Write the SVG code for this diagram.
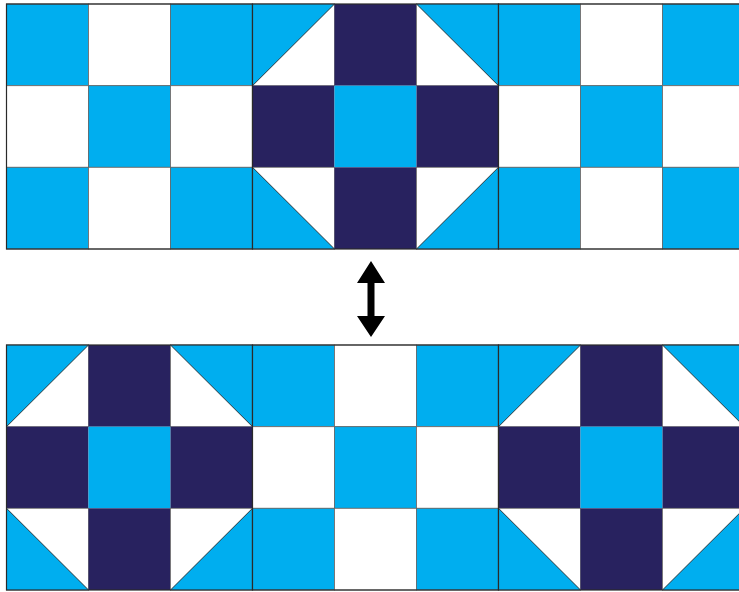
<svg xmlns="http://www.w3.org/2000/svg" xmlns:xlink="http://www.w3.org/1999/xlink" width="739" height="592" viewBox="0 0 739 592">
<style>
.b{fill:#00AEEF}
.w{fill:#FFFFFF}
.n{fill:#28225F}
.sq{stroke:#666;stroke-width:0.8}
.tri{fill:#00AEEF;stroke:none}
.diag{stroke:#2a3a40;stroke-width:1;fill:none}
.edge{fill:none;stroke:#2a2a2a;stroke-width:1.2}
</style>
<defs>
<g id="checker">
<rect class="b sq" x="0" y="0" width="82" height="81.7"/>
<rect class="w sq" x="82" y="0" width="82" height="81.7"/>
<rect class="b sq" x="164" y="0" width="82" height="81.7"/>
<rect class="w sq" x="0" y="81.7" width="82" height="81.6"/>
<rect class="b sq" x="82" y="81.7" width="82" height="81.6"/>
<rect class="w sq" x="164" y="81.7" width="82" height="81.6"/>
<rect class="b sq" x="0" y="163.3" width="82" height="81.7"/>
<rect class="w sq" x="82" y="163.3" width="82" height="81.7"/>
<rect class="b sq" x="164" y="163.3" width="82" height="81.7"/>
<rect class="edge" x="0" y="0" width="246" height="245"/>
</g>
<g id="star">
<rect class="w sq" x="0" y="0" width="82" height="81.7"/>
<polygon class="tri" points="0,0 82,0 0,81.7"/>
<line class="diag" x1="0" y1="81.7" x2="82" y2="0"/>
<rect class="n" x="82" y="0" width="82" height="81.7"/>
<rect class="w sq" x="164" y="0" width="82" height="81.7"/>
<polygon class="tri" points="164,0 246,0 246,81.7"/>
<line class="diag" x1="164" y1="0" x2="246" y2="81.7"/>
<rect class="n" x="0" y="81.7" width="82" height="81.6"/>
<rect class="b" x="82" y="81.7" width="82" height="81.6"/>
<rect class="n" x="164" y="81.7" width="82" height="81.6"/>
<rect class="w sq" x="0" y="163.3" width="82" height="81.7"/>
<polygon class="tri" points="0,163.3 0,245 82,245"/>
<line class="diag" x1="0" y1="163.3" x2="82" y2="245"/>
<rect class="n" x="82" y="163.3" width="82" height="81.7"/>
<rect class="w sq" x="164" y="163.3" width="82" height="81.7"/>
<polygon class="tri" points="246,163.3 246,245 164,245"/>
<line class="diag" x1="164" y1="245" x2="246" y2="163.3"/>
<rect class="edge" x="0" y="0" width="246" height="245"/>
</g>
</defs>
<rect x="0" y="0" width="739" height="592" fill="#FFFFFF"/>
<g id="top-row">
<g id="top-block-1"><use xlink:href="#checker" href="#checker" transform="translate(6.5,4)"/></g>
<g id="top-block-2"><use xlink:href="#star" href="#star" transform="translate(252.5,4)"/></g>
<g id="top-block-3"><use xlink:href="#checker" href="#checker" transform="translate(498.5,4)"/></g>
</g>
<g id="bottom-row">
<g id="bottom-block-1"><use xlink:href="#star" href="#star" transform="translate(6.5,345)"/></g>
<g id="bottom-block-2"><use xlink:href="#checker" href="#checker" transform="translate(252.5,345)"/></g>
<g id="bottom-block-3"><use xlink:href="#star" href="#star" transform="translate(498.5,345)"/></g>
</g>
<g id="connectors">
<polygon fill="#000000" points="371,261 385,283 374.5,283 374.5,316 385,316 371,337 357,316 367.5,316 367.5,283 357,283"/>
</g>
</svg>
